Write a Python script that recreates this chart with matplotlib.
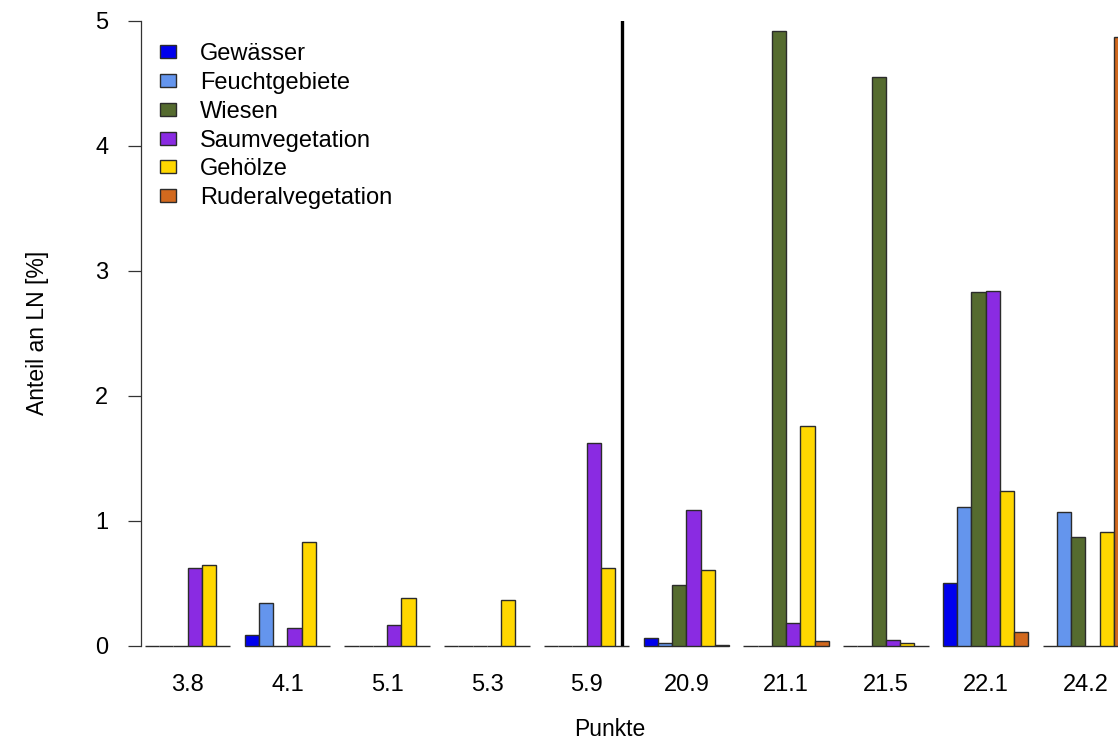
import matplotlib
matplotlib.use("Agg")
import matplotlib.pyplot as plt
import numpy as np

plt.rcParams['font.family'] = ['Liberation Sans', 'DejaVu Sans']

# Punkte (x groups) and land use classes
punkte = ["3.8", "4.1", "5.1", "5.3", "5.9", "20.9", "21.1", "21.5", "22.1", "24.2"]
klassen = ["Gewässer", "Feuchtgebiete", "Wiesen", "Saumvegetation", "Gehölze", "Ruderalvegetation"]
farben = ["#0000EE", "#6495ED", "#556B2F", "#8A2BE2", "#FFD700", "#D2691E"]

# Anteil an LN [%] per class, one value per Punkt
gewaesser = [0.00, 0.09, 0.00, 0.00, 0.00, 0.06, 0.00, 0.00, 0.50, 0.00]
feucht    = [0.00, 0.34, 0.00, 0.00, 0.00, 0.02, 0.00, 0.00, 1.11, 1.07]
wiesen    = [0.00, 0.00, 0.00, 0.00, 0.00, 0.49, 4.92, 4.55, 2.83, 0.87]
saum      = [0.62, 0.14, 0.17, 0.00, 1.62, 1.09, 0.18, 0.05, 2.84, 0.00]
gehoelze  = [0.65, 0.83, 0.38, 0.37, 0.62, 0.61, 1.76, 0.02, 1.24, 0.91]
ruderal   = [0.00, 0.00, 0.00, 0.00, 0.00, 0.01, 0.04, 0.00, 0.11, 4.87]

werte = [gewaesser, feucht, wiesen, saum, gehoelze, ruderal]

W, H = 1118, 740
fig = plt.figure(figsize=(W / 100, H / 100), dpi=100)

# barplot-like layout: bar width 1, one bar gap between groups
n_kl = len(klassen)
starts = 1 + 7 * np.arange(len(punkte))
xlim = (0.72, 72.0)
px_per_unit = 14.25
ax_w = (xlim[1] - xlim[0]) * px_per_unit
ax = fig.add_axes([141 / W, (H - 646) / H, ax_w / W, (646 - 20.5) / H])

for j, (name, col, vals) in enumerate(zip(klassen, farben, werte)):
    ax.bar(starts + j + 0.5, vals, width=1.0, color=col, edgecolor="#2b2b2b",
           linewidth=1.0, label=name, clip_on=False, zorder=2)

# divider between the two point series
trenn_x = starts[4] + 5.5
ax.plot([trenn_x, trenn_x], [0, 5], color="black", linewidth=2.4, zorder=3)

ax.set_xlim(*xlim)
ax.set_ylim(0, 5)
ax.set_xticks(starts + n_kl / 2)
ax.set_xticklabels(punkte)
ax.set_yticks(range(6))
ax.tick_params(axis="x", length=0, pad=20, labelsize=17)
ax.tick_params(axis="y", length=9.5, width=0.9, pad=14, labelsize=17, color="#333333")
for s in ["top", "right", "bottom"]:
    ax.spines[s].set_visible(False)
ax.spines["left"].set_linewidth(0.9)
ax.spines["left"].set_color("#333333")

fig.text(38 / W, 1 - 333 / H, "Anteil an LN [%]", rotation=90, ha="center", va="center", fontsize=16.5)
fig.text(610 / W, 1 - 730 / H, "Punkte", ha="center", va="center", fontsize=16.5)

fig.legend(loc="upper left", bbox_to_anchor=(160 / W, 1 - 43 / H), frameon=False,
           fontsize=17, handlelength=0.68, handleheight=0.47, handletextpad=1.0,
           labelspacing=0.29, borderaxespad=0, borderpad=0)

fig.savefig("out.png", dpi=100)
